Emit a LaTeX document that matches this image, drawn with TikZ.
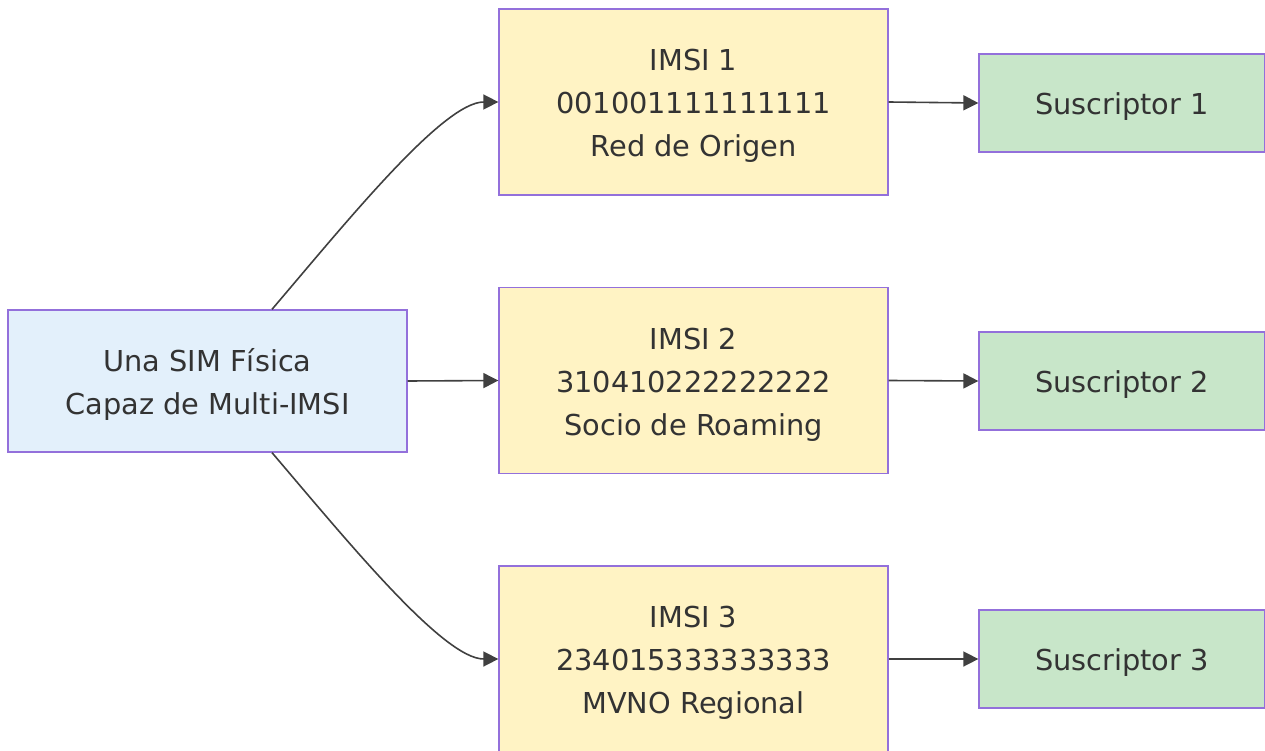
\documentclass[tikz,border=0pt]{standalone}
\usepackage{fontspec}
\setmainfont{DejaVu Sans}
\usetikzlibrary{arrows.meta}
\definecolor{bord}{HTML}{9370DB}
\definecolor{srcfill}{HTML}{E3F0FB}
\definecolor{imsifill}{HTML}{FFF3C4}
\definecolor{subfill}{HTML}{C8E6C9}
\definecolor{txt}{HTML}{333333}
\definecolor{edge}{HTML}{404040}
\newcommand{\lowr}{\rule{0pt}{29pt}}
\tikzset{
  box/.style={draw=bord, line width=1.3pt, rectangle, inner sep=0pt, align=center,
    text=txt, font=\fontsize{28.8pt}{43pt}\selectfont},
  srcbox/.style={box, fill=srcfill, minimum width=399pt, minimum height=142pt},
  imsibox/.style={box, fill=imsifill, minimum width=389pt, minimum height=186pt},
  subbox/.style={box, fill=subfill, minimum width=286pt, minimum height=98pt},
  conn/.style={draw=edge, line width=1.6pt, -{Triangle[length=15pt,width=15pt]}}
}
\begin{document}
\begin{tikzpicture}[x=1pt,y=-1pt]
\useasboundingbox (0,0) rectangle (1265,751);
\node[srcbox] (src) at (207.5,381) {\lowr Una SIM Física\\Capaz de Multi-IMSI};
\node[imsibox] (i1) at (693.5,102) {\lowr IMSI 1\\001001111111111\\Red de Origen};
\node[imsibox] (i2) at (693.5,380.5) {\lowr IMSI 2\\310410222222222\\Socio de Roaming};
\node[imsibox] (i3) at (693.5,659) {\lowr IMSI 3\\234015333333333\\MVNO Regional};
\node[subbox] (s1) at (1122,103) {\lowr Suscriptor 1};
\node[subbox] (s2) at (1122,381) {\lowr Suscriptor 2};
\node[subbox] (s3) at (1122,659) {\lowr Suscriptor 3};
\draw[conn] ([xshift=64.5pt]src.north) .. controls +(75,-88) and +(-55,0) .. (i1.west);
\draw[conn] (src.east) -- (i2.west);
\draw[conn] ([xshift=64.5pt]src.south) .. controls +(75,88) and +(-55,0) .. (i3.west);
\draw[conn] (i1.east) -- (s1.west);
\draw[conn] (i2.east) -- (s2.west);
\draw[conn] (i3.east) -- (s3.west);
\end{tikzpicture}
\end{document}
